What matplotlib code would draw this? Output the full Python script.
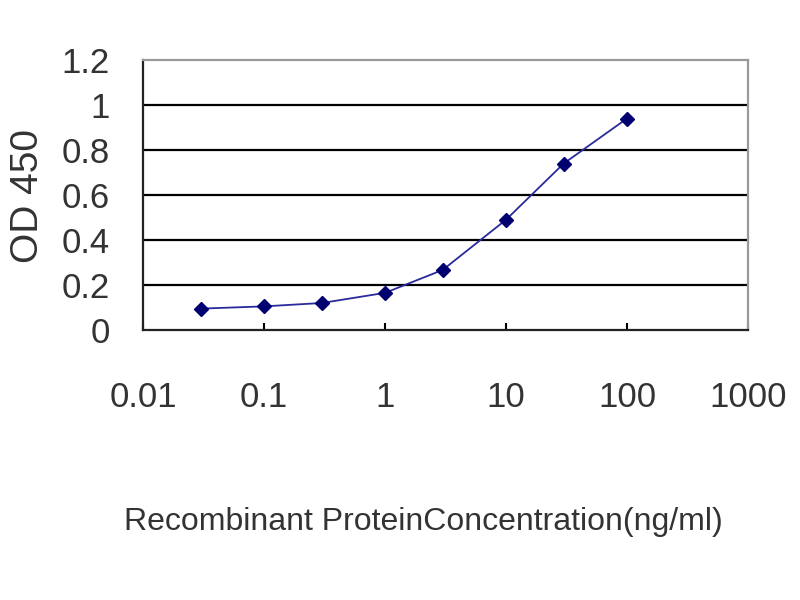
import matplotlib
matplotlib.use("Agg")
import matplotlib.pyplot as plt
from matplotlib.ticker import FixedLocator, FixedFormatter, NullLocator

plt.rcParams['font.family'] = ['Liberation Sans', 'DejaVu Sans']

concentration = [0.03, 0.1, 0.3, 1, 3, 10, 30, 100]
od450 = [0.095, 0.105, 0.12, 0.165, 0.267, 0.49, 0.74, 0.94]
x_ticks = [0.01, 0.1, 1, 10, 100, 1000]
x_tick_labels = ["0.01", "0.1", "1", "10", "100", "1000"]
y_ticks = [0, 0.2, 0.4, 0.6, 0.8, 1, 1.2]
y_tick_labels = ["0", "0.2", "0.4", "0.6", "0.8", "1", "1.2"]

fig = plt.figure(figsize=(8, 6), dpi=100)
ax = fig.add_axes([143/800, 1 - 330/600, (748 - 143)/800, (330 - 60)/600])

ax.set_xscale('log')
ax.set_xlim(0.01, 1000)
ax.set_ylim(0, 1.2)

for v in y_ticks[1:-1]:
    ax.axhline(v, color='black', lw=1.6, zorder=1)

ax.plot(concentration, od450, color='#2a2a9c', lw=1.3, marker='D', markersize=7,
        markerfacecolor='#000070', markeredgecolor='#000070', zorder=3)

ax.xaxis.set_major_locator(FixedLocator(x_ticks))
ax.xaxis.set_major_formatter(FixedFormatter(x_tick_labels))
ax.xaxis.set_minor_locator(NullLocator())
ax.yaxis.set_major_locator(FixedLocator(y_ticks))
ax.yaxis.set_major_formatter(FixedFormatter(y_tick_labels))

ax.tick_params(axis='x', direction='in', length=5, width=1.5, color='black',
               labelsize=25, pad=37, labelcolor='#333333')
ax.tick_params(axis='y', length=0, labelsize=25, pad=24, labelcolor='#333333')

for s in ['left', 'bottom']:
    ax.spines[s].set_color('#222222')
    ax.spines[s].set_linewidth(1.6)
for s in ['top', 'right']:
    ax.spines[s].set_color('#9a9a9a')
    ax.spines[s].set_linewidth(1.6)

fig.text(28/800, 1 - 196/600, "OD 450", rotation=90, ha='center', va='center',
         fontsize=28, color='#333333')
fig.text(423/800, 1 - 522/600, "Recombinant ProteinConcentration(ng/ml)",
         ha='center', va='center', fontsize=23, color='#333333')

fig.savefig("out.png", dpi=100)
